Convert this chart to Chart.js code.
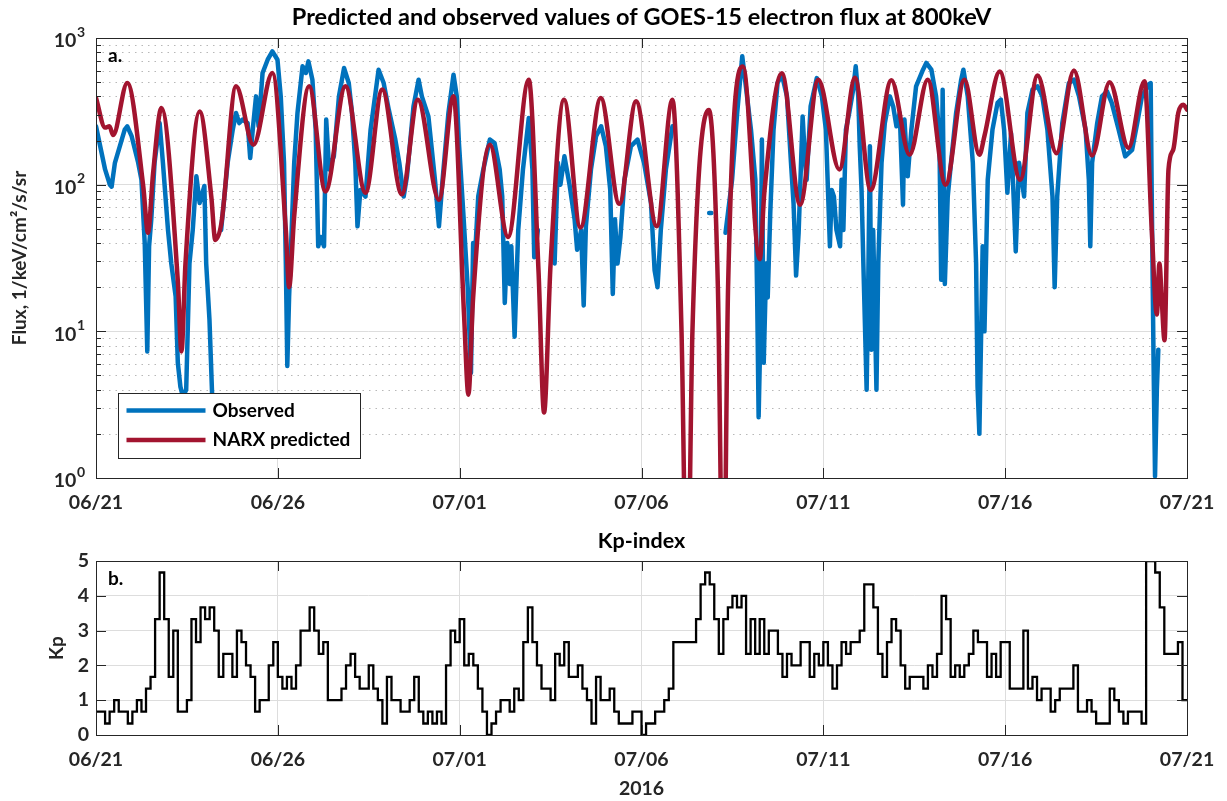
<!DOCTYPE html>
<html><head><meta charset="utf-8">
<script src="https://cdn.jsdelivr.net/npm/chart.js@4.4.1/dist/chart.umd.min.js"></script>
<style>
html,body{margin:0;padding:0;background:#fff;}
#c1{position:absolute;left:0;top:0;}
#c2{position:absolute;left:0;top:520px;}
</style></head><body>
<canvas id="c1" width="1227" height="520"></canvas>
<canvas id="c2" width="1227" height="281"></canvas>
<script>
// ---------- data ----------
const dateTickLabels = ['06/21','06/26','07/01','07/06','07/11','07/16','07/21'];
const seriesNames = ['Observed', 'NARX predicted'];
const fluxDecadeExponents = [0, 1, 2, 3];

// Observed flux (days since 06/21 00:00), null = data gap
const obsDays = [
 0.00,0.25,0.38,0.43,0.52,0.79,0.86,0.98,1.16,1.25,1.34,1.41,1.46,1.52,1.61,1.75,1.84,1.98,
 2.07,2.19,2.25,2.32,2.39,2.48,2.57,2.66,2.76,2.85,2.98,3.03,3.12,3.21,3.30,3.44,3.62,3.76,3.85,3.94,
 4.03,4.17,4.24,4.31,4.40,4.47,4.58,4.72,4.85,4.99,5.08,5.17,5.22,5.26,5.31,5.38,5.45,5.54,5.68,5.77,5.84,5.95,
 6.04,6.11,6.18,6.27,6.33,6.41,6.54,6.68,6.82,6.95,7.04,7.13,7.19,7.27,7.41,7.55,7.77,7.91,
 8.05,8.23,8.34,8.46,8.55,8.73,8.87,8.96,9.14,9.32,9.43,9.53,9.69,9.83,9.92,9.98,
 10.10,10.22,10.31,10.37,10.42,10.51,10.65,10.83,10.96,11.10,11.17,11.24,11.31,11.38,11.42,11.51,11.61,11.74,11.90,
 12.00,12.05,12.15,12.24,12.61,12.70,12.77,12.88,13.02,13.16,13.23,13.34,13.41,13.47,13.61,13.75,13.89,
 14.02,14.14,14.21,14.27,14.34,14.42,14.53,14.71,14.89,15.07,15.26,15.36,15.44,15.53,15.67,15.85,15.90,
 16.86,16.92,16.95,
 17.31,17.49,17.63,17.77,17.88,18.01,18.13,18.18,18.22,18.27,18.31,18.36,18.43,18.47,18.54,18.63,18.74,18.86,
 19.00,19.11,19.18,19.25,19.32,19.43,19.50,19.54,19.65,19.82,19.96,
 20.07,20.18,20.23,20.29,20.36,20.46,20.50,20.55,20.62,20.71,20.82,20.89,20.96,21.00,21.05,21.10,21.19,21.23,21.28,21.32,21.37,21.46,21.51,21.60,21.69,21.83,21.92,
 22.01,22.10,22.19,22.23,22.32,22.42,22.55,22.74,22.83,22.97,23.10,23.19,23.24,23.28,23.34,23.42,23.51,23.65,23.79,23.85,23.97,
 24.11,24.20,24.24,24.29,24.34,24.38,24.43,24.52,24.65,24.79,24.88,24.97,25.06,25.16,25.25,25.29,25.38,25.52,25.61,25.75,25.89,
 26.02,26.16,26.30,26.36,26.43,26.57,26.75,26.89,27.03,27.21,27.30,27.34,27.39,27.53,27.66,27.80,27.93,
 28.12,28.30,28.49,28.63,28.76,28.94,29.00,29.03,29.08,29.12,29.17,29.21,29.25
];
const obsFlux = [
 250,127,100,97,141,237,250,214,141,108,40,7.3,38,58,141,263,141,49,
 29,17.3,6.1,4.2,3.6,4.0,29,49,114,75,98,29,12,2.8,null,49,141,237,308,263,
 278,263,152,237,400,250,577,711,811,711,400,141,29,5.8,17.3,49,141,308,641,577,693,520,
 237,38,44,38,278,127,156,400,624,493,308,141,52,92,83,237,608,493,
 325,203,141,83,114,342,520,400,292,108,52,108,308,562,400,192,
 64,20,5.2,40,32,83,127,203,192,127,83,15.6,40,21,38,9.2,49,127,285,
 127,32,49,null,29,141,100,156,100,58,36,49,15,52,127,214,250,
 183,92,18,58,29,44,108,183,203,141,75,26,20,49,127,250,null,
 64,64,null,
 47,108,308,750,444,237,108,17.3,2.6,10.2,203,6.1,29,17,64,237,493,562,
 400,141,75,24,47,292,141,108,342,533,400,
 237,38,92,83,49,38,108,49,237,308,444,641,400,183,92,29,4.0,17.3,183,7.5,49,4.0,29,141,263,400,342,
 250,308,73,278,114,237,468,608,676,608,400,214,22.5,444,21,83,141,308,520,608,400,
 141,29,4.2,2.0,10.2,38,10,108,237,361,380,237,88,225,64,35,141,83,308,444,468,
 400,237,83,20,83,263,493,520,400,237,108,38,141,263,400,433,361,
 237,156,173,263,400,481,493,83,6.1,1.03,4.0,7.5,null
];

// NARX predicted flux
const narxDays = [
 0,0.25,0.37,0.47,0.86,1.30,1.43,1.57,1.80,2.25,2.35,2.46,2.85,3.17,3.28,3.45,3.85,4.33,4.85,
 5.22,5.31,5.45,5.86,6.31,6.86,7.41,7.87,8.41,8.85,9.43,9.83,10.12,10.24,10.37,10.83,11.33,11.90,
 12.17,12.32,12.50,12.87,13.32,13.88,14.39,14.85,15.42,15.85,16.10,16.255,16.40,16.85,17.10,17.25,17.38,17.79,
 18.25,18.38,18.86,19.36,19.86,20.44,20.87,21.30,21.87,22.37,22.87,23.36,23.88,24.29,24.43,24.85,
 25.41,25.89,26.41,26.89,27.39,27.87,28.39,28.83,29.03,29.17,29.24,29.31,29.38,29.49,29.62,29.76,29.90,30.00
];
const narxFlux = [
 390,245,250,218,494,97,47,120,333,22,7.3,29,316,83,42,55,468,187,577,
 49,20,61,468,90,468,88,445,86,380,79,400,13,3.7,17,187,44,520,
 25,2.8,29,380,51,390,74,370,52,380,10,0.1,10,323,20,0.1,20,640,
 31,90,575,73,520,127,535,92,515,160,520,100,520,160,215,590,
 108,555,164,600,158,500,178,507,49,13,29,15.5,8.7,127,173,309,350,325
];

// Kp index, 3-hourly values starting 06/21 00:00
const kpValues = [
 0.67,0.67,0.33,0.67,1,0.67,0.67,0.33,
 0.67,1,0.67,1.33,1.67,3.33,4.67,3.33,
 1.67,3,0.67,0.67,1,3.33,2.67,3.67,
 3.33,3.67,3,1.67,2.33,2.33,1.67,3,
 2.67,2,1.67,0.67,1,1,2,2.67,
 1.67,1.33,1.67,1.33,2,3,3,3.67,
 3,2.33,2.67,1,1,1,1.33,2,
 2.33,1.67,1.33,1.33,2,1.33,1,0.33,
 1.67,1,1,0.67,0.67,1,1.67,0.67,
 0.33,0.67,0.33,0.67,0.33,2,3,2.67,
 3.33,2,2.33,2,1.33,0.67,0,0.33,
 0.67,1,1,0.67,1.33,1,2.67,3.67,
 2.67,2,1.33,1.33,1,2.33,2,2.67,
 1.67,1.67,2,1.33,1,0.33,1.67,1,
 1,1.33,0.67,0.33,0.33,0.33,0.67,0.67,
 0,0.33,0.33,0.67,0.67,1,1.33,2.67,
 2.67,2.67,2.67,2.67,3.33,4.33,4.67,4.33,
 3.33,2.33,3.33,3.67,4,3.67,4,2.33,
 3.33,2.33,3.33,2.33,3,3,2.33,1.67,
 2.33,2,2,2.67,2.67,1.67,2.33,2,
 2.67,2,1.33,2,2.67,2.33,2.67,2.67,
 3,4.33,4.33,3.67,2.33,1.67,2.67,3.33,
 3,2,1.33,1.67,1.67,1.67,1.33,2,
 1.67,2.33,4,3.33,1.67,2,1.67,2,
 2.33,3,2.67,2.67,1.67,2.33,1.67,2.67,
 2.67,1.33,1.33,1.33,3,1.33,1.67,1,
 1.33,1.33,0.67,1,1.33,1.33,1.33,2,
 0.67,0.67,1,0.67,0.33,0.33,0.33,1.33,
 1,0.67,0.33,0.67,0.67,0.67,0.33,5,
 5,4.67,3.67,2.33,2.33,2.33,2.67,1
];
const kpStepDays = 0.125;

// ---------- styling ----------
const FONT = "Lato, 'Open Sans', 'DejaVu Sans', sans-serif";
Chart.defaults.font.family = FONT;
Chart.defaults.color = '#262626';
const FRAME = '#262626', GRID = '#dddddd', MINOR = '#b8b8b8', TXT = '#262626';
const BLUE = '#0072BD', RED = '#A2142F';
const TICK_FONT = {size: 19.5, weight: 'bold'};

const framePlugin = {
  id: 'frame',
  beforeDatasetsDraw(chart){
    const y = chart.scales.y;
    if (y.type !== 'logarithmic') return;
    const {left, right} = chart.chartArea, ctx = chart.ctx;
    ctx.save(); ctx.strokeStyle = MINOR; ctx.lineWidth = 1; ctx.setLineDash([1.5, 5]);
    for (let d = y.min; d < y.max; d *= 10) for (let m = 2; m <= 9; m++) {
      const py = Math.round(y.getPixelForValue(m * d)) + 0.5;
      ctx.beginPath(); ctx.moveTo(left, py); ctx.lineTo(right, py); ctx.stroke();
    }
    ctx.restore();
  },
  afterDatasetsDraw(chart, args, opts){
    const {left, right, top, bottom} = chart.chartArea, ctx = chart.ctx;
    const x = chart.scales.x, y = chart.scales.y;
    ctx.save(); ctx.strokeStyle = FRAME; ctx.lineWidth = 1; ctx.setLineDash([]);
    ctx.beginPath();
    x.ticks.forEach(t => {
      const px = Math.round(x.getPixelForValue(t.value)) + 0.5;
      ctx.moveTo(px, bottom); ctx.lineTo(px, bottom - 10);
      ctx.moveTo(px, top); ctx.lineTo(px, top + 10);
    });
    const yv = [];
    if (y.type === 'logarithmic') {
      for (let d = y.min; d <= y.max * 1.0001; d *= 10) {
        yv.push([d, 10]);
        if (d < y.max) for (let m = 2; m <= 9; m++) yv.push([m * d, 5]);
      }
    } else y.ticks.forEach(t => yv.push([t.value, 10]));
    yv.forEach(([v, len]) => {
      const py = Math.round(y.getPixelForValue(v)) + 0.5;
      ctx.moveTo(left, py); ctx.lineTo(left + len, py);
      ctx.moveTo(right, py); ctx.lineTo(right - len, py);
    });
    ctx.stroke();
    ctx.strokeRect(Math.round(left) + 0.5, Math.round(top) + 0.5, Math.round(right - left), Math.round(bottom - top));
    ctx.fillStyle = '#000'; ctx.font = 'bold 19px ' + FONT; ctx.textBaseline = 'middle'; ctx.textAlign = 'left';
    ctx.fillText(opts.label, left + 12, top + 18);
    ctx.restore();
  },
  afterDraw(chart){
    // decade labels of the log axis, written as 10 with a raised exponent
    const y = chart.scales.y;
    if (y.type !== 'logarithmic') return;
    const ctx = chart.ctx, xr = chart.chartArea.left - 11;
    ctx.save(); ctx.fillStyle = TXT; ctx.textBaseline = 'middle'; ctx.textAlign = 'right';
    fluxDecadeExponents.forEach(e => {
      const py = y.getPixelForValue(Math.pow(10, e));
      ctx.font = 'bold 14px ' + FONT;
      const sw = ctx.measureText(String(e)).width;
      ctx.fillText(String(e), xr, py - 6);
      ctx.font = 'bold 19.5px ' + FONT;
      ctx.fillText('10', xr - sw - 0.5, py + 3);
    });
    ctx.restore();
  }
};

const boxLegendPlugin = {
  id: 'boxLegend',
  afterDatasetsDraw(chart){
    const {left, bottom} = chart.chartArea, ctx = chart.ctx;
    const bx = left + 22.5, by = bottom - 84.5, bw = 242, bh = 65;
    ctx.save();
    ctx.fillStyle = '#fff'; ctx.fillRect(bx, by, bw, bh);
    ctx.strokeStyle = FRAME; ctx.lineWidth = 1; ctx.strokeRect(bx, by, bw, bh);
    ctx.font = 'bold 19px ' + FONT; ctx.textBaseline = 'middle'; ctx.textAlign = 'left'; ctx.fillStyle = '#000';
    chart.data.datasets.forEach((ds, i) => {
      const ly = by + 17 + i * 29.5;
      ctx.strokeStyle = ds.borderColor; ctx.lineWidth = 4.5;
      ctx.beginPath(); ctx.moveTo(bx + 8, ly); ctx.lineTo(bx + 87, ly); ctx.stroke();
      ctx.fillText(ds.label, bx + 94, ly);
    });
    ctx.restore();
  }
};

// ---------- chart a: flux ----------
new Chart(document.getElementById('c1'), {
  type: 'line',
  data: { datasets: [
    { label: seriesNames[0], data: obsDays.map((d, i) => ({x: d, y: obsFlux[i]})),
      borderColor: BLUE, backgroundColor: BLUE, borderWidth: 4.5, pointRadius: 0, tension: 0, spanGaps: false, order: 1,
      borderJoinStyle: 'round', borderCapStyle: 'round' },
    { label: seriesNames[1], data: narxDays.map((d, i) => ({x: d, y: narxFlux[i]})),
      borderColor: RED, backgroundColor: RED, borderWidth: 4.5, pointRadius: 0, cubicInterpolationMode: 'monotone', order: 0,
      borderJoinStyle: 'round', borderCapStyle: 'round' }
  ]},
  options: {
    responsive: false, animation: false, events: [],
    layout: { padding: {left: 0, right: 35, top: 0, bottom: 0} },
    plugins: {
      legend: {display: false}, tooltip: {enabled: false},
      title: { display: true, fullSize: false, text: 'Predicted and observed values of GOES-15 electron flux at 800keV',
        color: '#000', font: {size: 23.5, weight: 'bold'}, padding: {top: 3.4, bottom: 6.4} },
      frame: { label: 'a.' }
    },
    scales: {
      x: { type: 'linear', min: 0, max: 30,
        afterFit(s){ s.height = 42; },
        ticks: { stepSize: 5, padding: 12.8, maxRotation: 0, autoSkip: false, color: TXT,
          font: TICK_FONT, callback: (v, i) => dateTickLabels[i] },
        grid: { color: GRID, drawTicks: false }, border: { display: false } },
      y: { type: 'logarithmic', min: 1, max: 1000,
        afterFit(s){ s.width = 96; },
        ticks: { display: false, autoSkip: false },
        grid: { color: c => (c.tick && fluxDecadeExponents.some(e => Math.abs(Math.pow(10, e) - c.tick.value) < 1e-6)) ? GRID : 'rgba(0,0,0,0)', drawTicks: false },
        border: { display: false },
        title: { display: true, text: 'Flux, 1/keV/cm\u00B2/s/sr', color: TXT,
          font: {size: 19, weight: 'bold'}, padding: {top: 8.6, bottom: 0} } }
    }
  },
  plugins: [framePlugin, boxLegendPlugin]
});

// ---------- chart b: Kp ----------
const kpPoints = kpValues.map((v, i) => ({x: i * kpStepDays, y: v}));
kpPoints.push({x: kpValues.length * kpStepDays, y: kpValues[kpValues.length - 1]});

new Chart(document.getElementById('c2'), {
  type: 'line',
  data: { datasets: [
    { label: 'Kp', data: kpPoints, stepped: true, borderColor: '#000', borderWidth: 2.3, pointRadius: 0 }
  ]},
  options: {
    responsive: false, animation: false, events: [],
    layout: { padding: {left: 0, right: 35, top: 0, bottom: 0} },
    plugins: {
      legend: {display: false}, tooltip: {enabled: false},
      title: { display: true, fullSize: false, text: 'Kp-index', color: '#000', font: {size: 21.5, weight: 'bold'}, padding: {top: 8.6, bottom: 6.6} },
      frame: { label: 'b.' }
    },
    scales: {
      x: { type: 'linear', min: 0, max: 30,
        afterFit(s){ s.height = 66; },
        ticks: { stepSize: 5, padding: 12.8, maxRotation: 0, autoSkip: false, color: TXT,
          font: TICK_FONT, callback: (v, i) => dateTickLabels[i] },
        grid: { color: GRID, drawTicks: false }, border: { display: false },
        title: { display: true, text: '2016', color: TXT, font: {size: 19.5, weight: 'bold'}, padding: {top: 0, bottom: 0.3} } },
      y: { type: 'linear', min: 0, max: 5,
        afterFit(s){ s.width = 96; },
        ticks: { stepSize: 1, padding: 7, color: TXT, font: TICK_FONT },
        grid: { color: GRID, drawTicks: false }, border: { display: false },
        title: { display: true, text: 'Kp', color: TXT, font: {size: 19, weight: 'bold'}, padding: {top: 45.5, bottom: 0} } }
    }
  },
  plugins: [framePlugin]
});
</script>
</body></html>
